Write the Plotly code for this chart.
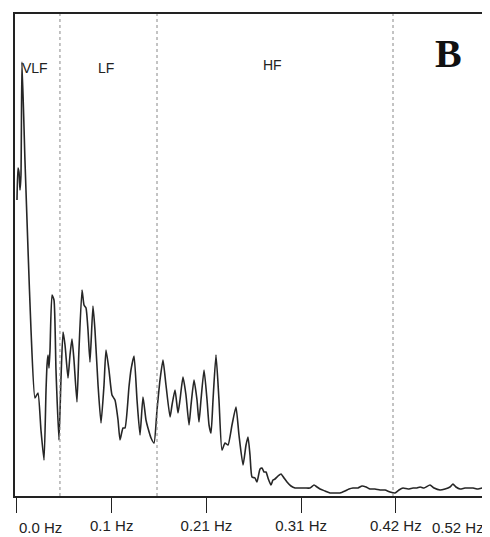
import plotly.graph_objects as go

# Frequency (Hz) and spectral power (arbitrary units)
freq = [0.0000, 0.0011, 0.0022, 0.0033, 0.0044, 0.0055, 0.0088, 0.0122, 0.0155, 0.0199,
        0.0232, 0.0265, 0.0299, 0.0321, 0.0332, 0.0343, 0.0354, 0.0365, 0.0387, 0.0409,
        0.0431, 0.0464, 0.0486, 0.0509, 0.0531, 0.0564, 0.0586, 0.0608, 0.0630, 0.0663,
        0.0685, 0.0719, 0.0741, 0.0763, 0.0785, 0.0807, 0.0840, 0.0862, 0.0896, 0.0929,
        0.0962, 0.0984, 0.1017, 0.1050, 0.1083, 0.1117, 0.1139, 0.1172, 0.1194, 0.1238,
        0.1260, 0.1294, 0.1327, 0.1360, 0.1393, 0.1426, 0.1448, 0.1482, 0.1515, 0.1548,
        0.1581, 0.1614, 0.1647, 0.1692, 0.1714, 0.1747, 0.1780, 0.1802, 0.1835, 0.1868,
        0.1902, 0.1924, 0.1957, 0.1990, 0.2012, 0.2034, 0.2068, 0.2101, 0.2123, 0.2145,
        0.2167, 0.2200, 0.2233, 0.2266, 0.2300, 0.2333, 0.2377, 0.2421, 0.2454, 0.2499,
        0.2532, 0.2554, 0.2576, 0.2598, 0.2631, 0.2653, 0.2687, 0.2709, 0.2731, 0.2753,
        0.2775, 0.2808, 0.2830, 0.2852, 0.2886, 0.2919, 0.2952, 0.2985, 0.3029, 0.3074,
        0.3129, 0.3184, 0.3239, 0.3284, 0.3317, 0.3350, 0.3405, 0.3461, 0.3516, 0.3571,
        0.3626, 0.3671, 0.3715, 0.3770, 0.3814, 0.3859, 0.3903, 0.3958, 0.4013, 0.4069,
        0.4124, 0.4179, 0.4223, 0.4268, 0.4323, 0.4378, 0.4422, 0.4456, 0.4500, 0.4566,
        0.4611, 0.4677, 0.4732, 0.4787, 0.4820, 0.4853, 0.4898, 0.4953, 0.5008, 0.5042,
        0.5097, 0.5141, 0.5185]
power = [296, 328, 324, 306, 321, 434, 336, 246, 166, 98,
         103, 66, 36, 106, 131, 141, 128, 146, 201, 196,
         126, 56, 116, 164, 151, 118, 141, 157, 136, 94,
         146, 206, 191, 188, 166, 134, 190, 166, 111, 73,
         111, 146, 126, 101, 96, 76, 56, 68, 68, 109,
         126, 140, 96, 61, 99, 76, 68, 58, 53, 86,
         116, 136, 111, 79, 91, 106, 83, 96, 119, 101,
         71, 91, 116, 96, 74, 96, 126, 96, 71, 63,
         96, 141, 96, 46, 53, 51, 71, 89, 61, 31,
         51, 59, 41, 19, 18, 14, 27, 28, 24, 24,
         18, 11, 16, 17, 20, 22, 18, 14, 10, 8,
         8, 8, 8, 11, 9, 7, 5, 3, 3, 3,
         5, 7, 8, 8, 10, 9, 7, 7, 6, 6,
         4, 3, 6, 8, 7, 8, 8, 9, 8, 11,
         8, 6, 7, 9, 12, 9, 7, 8, 8, 8,
         7, 8, 9]

band_edges = [0.0475, 0.1548, 0.4157]
band_names = ["VLF", "LF", "HF"]
band_label_x = [0.0199, 0.0984, 0.2830]
band_label_y = [428, 428, 431]

tick_vals = [0.0, 0.1047, 0.2094, 0.3141, 0.4188]
tick_text = ["", "0.1 Hz", "0.21 Hz", "0.31 Hz", "0.42 Hz"]
end_labels = ["0.0 Hz", "0.52 Hz"]

FONT = "Liberation Sans, Arial"

fig = go.Figure()
fig.add_trace(go.Scatter(x=freq, y=power, mode="lines",
                         line=dict(color="#262626", width=1.6, shape="spline", smoothing=0.5),
                         hoverinfo="skip", showlegend=False))

for xe in band_edges:
    fig.add_shape(type="line", x0=xe, x1=xe, y0=0, y1=1, xref="x", yref="paper",
                  line=dict(color="#888888", width=1, dash="dot"))

for name, bx, by in zip(band_names, band_label_x, band_label_y):
    fig.add_annotation(x=bx, y=by, text=name, showarrow=False,
                       font=dict(family=FONT, size=14, color="#222"))

fig.add_annotation(x=0.4765, y=443, text="<b>B</b>", showarrow=False,
                   font=dict(family="Liberation Serif, Times New Roman", size=40, color="#111"))

fig.add_annotation(x=0.0, xref="x", y=0, yref="paper", yanchor="middle", yshift=-31,
                   xanchor="left", text=end_labels[0], showarrow=False,
                   font=dict(family=FONT, size=15, color="#222"))
fig.add_annotation(x=1, xref="paper", y=0, yref="paper", yanchor="middle", yshift=-31,
                   xanchor="right", xshift=0, text=end_labels[1], showarrow=False,
                   font=dict(family=FONT, size=15, color="#222"))

fig.update_xaxes(range=[-0.0022, 0.5185], tickvals=tick_vals, ticktext=tick_text,
                 ticks="outside", ticklen=15, tickcolor="#222", tickwidth=1,
                 showline=True, linecolor="#222", linewidth=2, mirror=True,
                 showgrid=False, zeroline=False, automargin=False,
                 tickfont=dict(family=FONT, size=15, color="#222"))
fig.update_yaxes(range=[0, 482], showticklabels=False, ticks="",
                 showline=True, linecolor="#222", linewidth=2, mirror=True,
                 showgrid=False, zeroline=False, automargin=False)

# page body adds an 8px offset; size the figure so the plot box sits at x 15-486, y 14-496
fig.update_layout(width=482, height=529, margin=dict(l=7, r=4, t=6, b=41),
                  paper_bgcolor="white", plot_bgcolor="white")

fig.write_html("out.html")
